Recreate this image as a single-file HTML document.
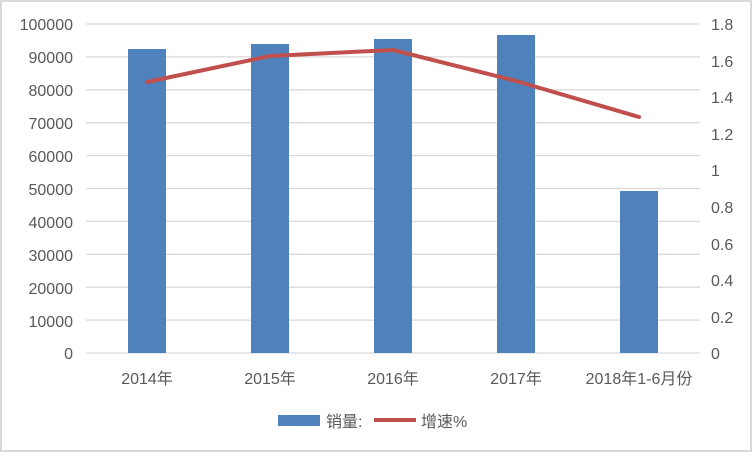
<!DOCTYPE html>
<html><head><meta charset="utf-8"><style>
body{margin:0;background:#fff}
svg text{font-family:"Liberation Sans","Noto Sans CJK SC",sans-serif;font-size:16px;fill:#595959}
</style></head><body>
<svg width="752" height="452" xmlns="http://www.w3.org/2000/svg">
<rect x="1" y="1" width="750" height="450" fill="#fff" stroke="#d9d9d9" stroke-width="2"/>
<g stroke="#d9d9d9" stroke-width="1.3">
<line x1="86" x2="700" y1="24" y2="24"/><line x1="86" x2="700" y1="56.9" y2="56.9"/>
<line x1="86" x2="700" y1="89.8" y2="89.8"/><line x1="86" x2="700" y1="122.7" y2="122.7"/>
<line x1="86" x2="700" y1="155.6" y2="155.6"/><line x1="86" x2="700" y1="188.5" y2="188.5"/>
<line x1="86" x2="700" y1="221.4" y2="221.4"/><line x1="86" x2="700" y1="254.3" y2="254.3"/>
<line x1="86" x2="700" y1="287.2" y2="287.2"/><line x1="86" x2="700" y1="320.1" y2="320.1"/>
<line x1="86" x2="700" y1="353" y2="353"/>
</g>
<g fill="#4f81bd">
<rect x="128" y="49" width="38" height="304"/>
<rect x="251" y="44" width="38" height="309"/>
<rect x="374" y="39" width="38" height="314"/>
<rect x="497" y="35" width="38" height="318"/>
<rect x="620" y="191" width="38" height="162"/>
</g>
<polyline points="147,82 270,56 393,50 516,81 639,117" fill="none" stroke="#c0504d" stroke-width="4" stroke-linejoin="round" stroke-linecap="round"/>
<g text-anchor="end">
<text x="73" y="30">100000</text><text x="73" y="63">90000</text><text x="73" y="96">80000</text>
<text x="73" y="129">70000</text><text x="73" y="162">60000</text><text x="73" y="195">50000</text>
<text x="73" y="228">40000</text><text x="73" y="261">30000</text><text x="73" y="294">20000</text>
<text x="73" y="327">10000</text><text x="73" y="359">0</text>
</g>
<g>
<text x="711" y="30">1.8</text><text x="711" y="67">1.6</text><text x="711" y="103">1.4</text>
<text x="711" y="140">1.2</text><text x="711" y="176">1</text><text x="711" y="213">0.8</text>
<text x="711" y="250">0.6</text><text x="711" y="286">0.4</text><text x="711" y="323">0.2</text>
<text x="711" y="359">0</text>
</g>
<g text-anchor="middle">
<text x="147" y="384">2014年</text><text x="270" y="384">2015年</text><text x="393" y="384">2016年</text>
<text x="516" y="384">2017年</text><text x="639" y="384">2018年1-6月份</text>
</g>
<rect x="278" y="415" width="42" height="11" fill="#4f81bd"/>
<text x="326" y="427">销量:</text>
<line x1="374" x2="416" y1="420" y2="420" stroke="#c0504d" stroke-width="4"/>
<text x="421" y="427">增速%</text>
</svg>
</body></html>
